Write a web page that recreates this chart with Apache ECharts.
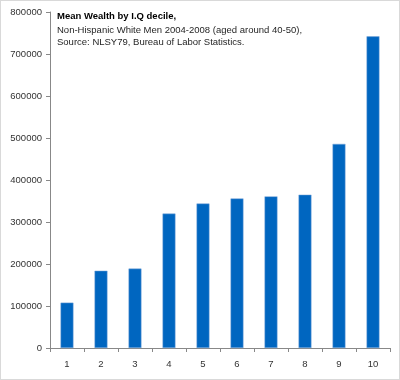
<!DOCTYPE html>
<html><head><meta charset="utf-8">
<script src="https://cdn.jsdelivr.net/npm/echarts@6/dist/echarts.min.js"></script>
<style>html,body{margin:0;padding:0;background:#fff}#c{width:400px;height:380px;box-sizing:border-box;border:1px solid #d9d9d9}</style>
</head><body><div id="c"></div>
<script>
const categories = ['1','2','3','4','5','6','7','8','9','10'];
const wealth = [108000, 184000, 189000, 320000, 344000, 356000, 361000, 365000, 486000, 742000];
const yTicks = [0, 100000, 200000, 300000, 400000, 500000, 600000, 700000, 800000];
const titleText = 'Mean Wealth by I.Q decile,';
const subText = 'Non-Hispanic White Men 2004-2008 (aged around 40-50),\nSource: NLSY79, Bureau of Labor Statistics.';

const chart = echarts.init(document.getElementById('c'));
chart.setOption({
  animation: false,
  title: {
    text: titleText, subtext: subText, left: 51, top: 5, itemGap: 2,
    textStyle: {fontFamily: 'Liberation Sans', fontSize: 9.5, fontWeight: 'bold', color: '#000', lineHeight: 11},
    subtextStyle: {fontFamily: 'Liberation Sans', fontSize: 9.5, color: '#262626', lineHeight: 12}
  },
  grid: {left: 49, right: 9, top: 11, bottom: 31, containLabel: false},
  xAxis: {
    type: 'category', data: categories, boundaryGap: true,
    axisLine: {lineStyle: {color: '#888'}},
    axisTick: {show: true, length: 4, lineStyle: {color: '#888'}},
    axisLabel: {fontFamily: 'Liberation Sans', fontSize: 9.5, color: '#333', margin: 11}
  },
  yAxis: {
    type: 'value', min: yTicks[0], max: yTicks[yTicks.length - 1], interval: 100000,
    axisLine: {show: true, lineStyle: {color: '#888'}},
    axisTick: {show: true, length: 4, lineStyle: {color: '#888'}},
    splitLine: {show: false},
    axisLabel: {fontFamily: 'Liberation Sans', fontSize: 9.5, color: '#333', margin: 8,
      formatter: v => String(v)}
  },
  series: [{
    type: 'bar', data: wealth, barWidth: '38%',
    itemStyle: {color: '#0066c0', borderColor: '#7fa8d8', borderWidth: 0.5}
  }]
});
</script></body></html>
